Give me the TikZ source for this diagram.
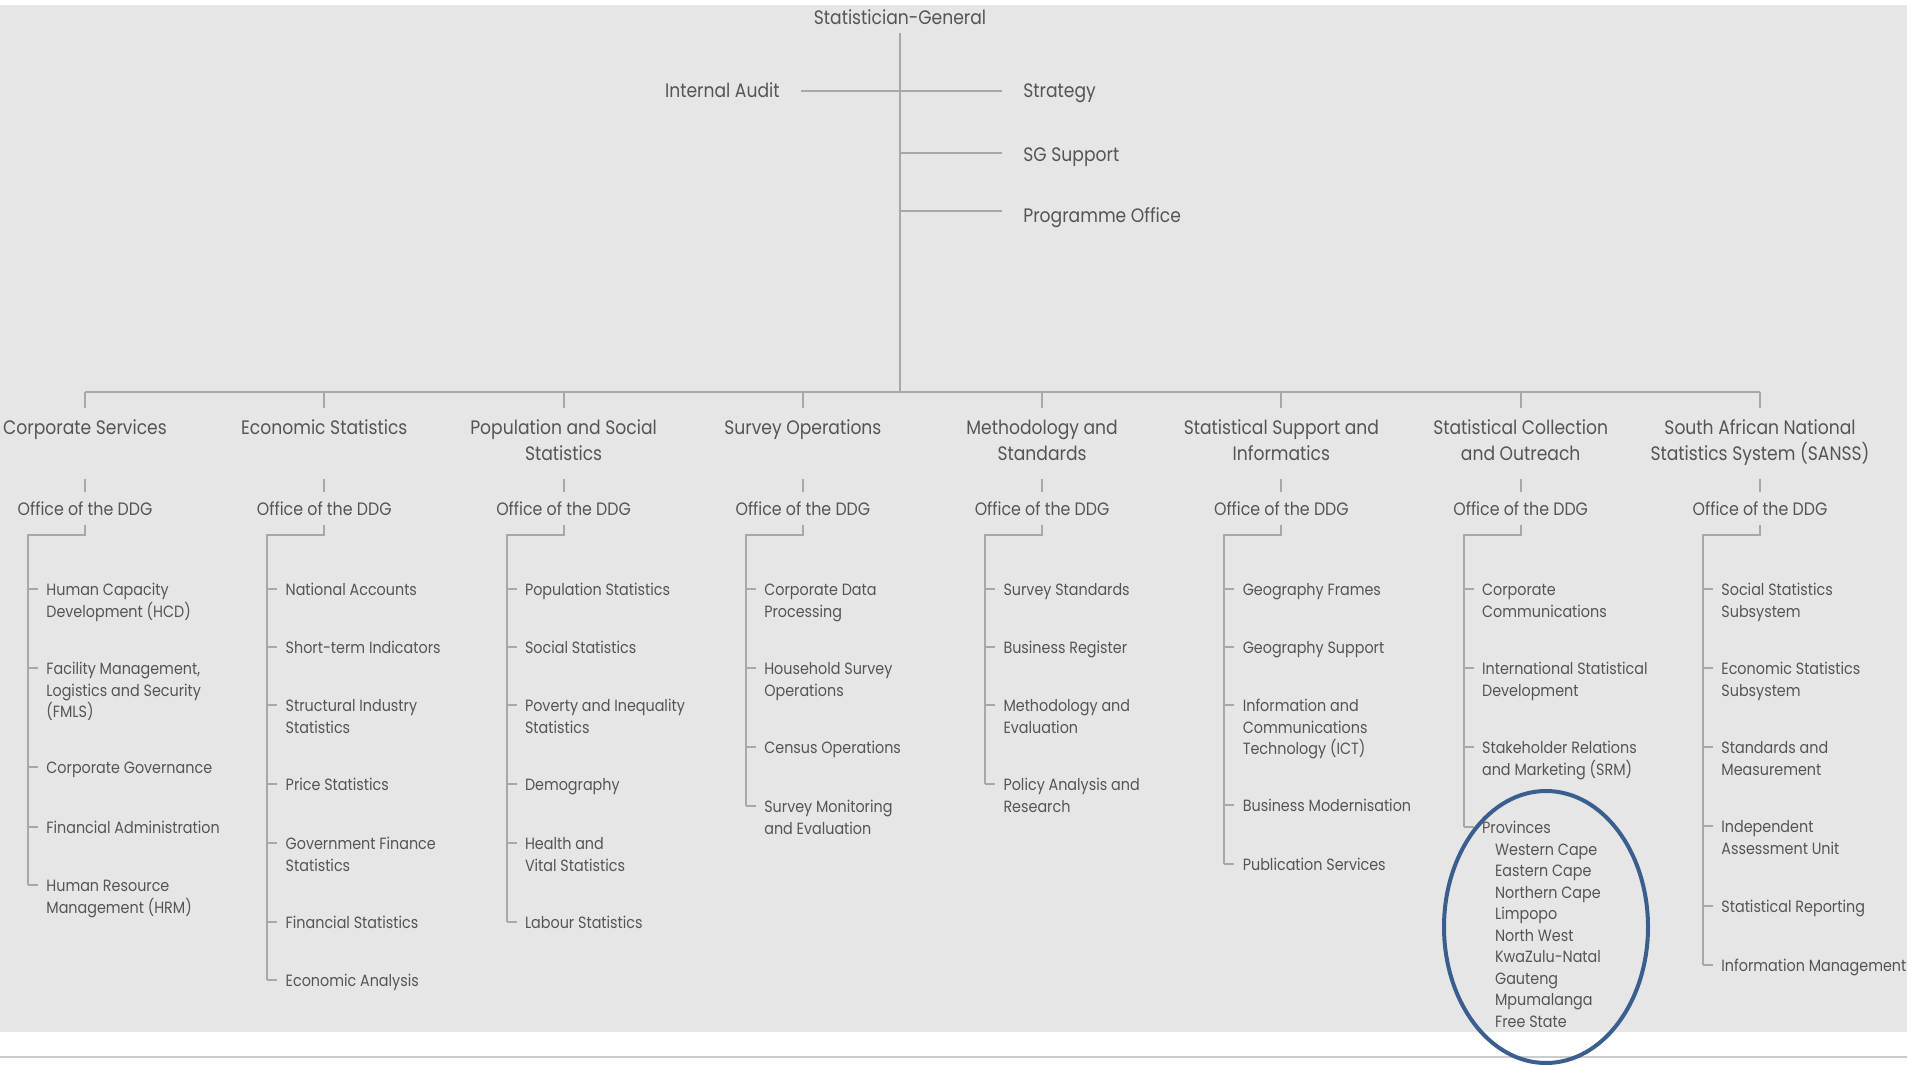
\documentclass[tikz,border=0pt]{standalone}
\usepackage{fontspec}
\setmainfont{Poppins}[FakeStretch=0.88]
\definecolor{bgc}{HTML}{E6E6E6}
\definecolor{txtc}{HTML}{555555}
\definecolor{lnc}{HTML}{A8A8A8}
\definecolor{ovc}{HTML}{3A5F8F}
\definecolor{botc}{HTML}{CCCCCC}
\newcommand{\ml}[1]{\begin{tabular}[t]{@{}l@{}}#1\end{tabular}}
\newcommand{\mc}[1]{\begin{tabular}[t]{@{}c@{}}#1\end{tabular}}
\newcommand{\orgitem}[4]{%
  \node[itm, anchor=base west] (#2) at ({#1-47},{#3+6.5}) {\ml{#4}};
  \path (#2.base west) ++(-10,-6.5) coordinate (#2-t);
  \draw[conn] (#2-t) -- ++(10,0);
}
\newcommand{\orghead}[3]{%
  \coordinate (b#2) at (#1,392);
  \node[dept, anchor=base] (d#2) at (#1,434.5) {\mc{#3}};
  \draw[conn] (b#2) -- (d#2.north);
  \coordinate (s#2) at (#1,479);
  \node[ddg, anchor=base] (o#2) at (#1,515) {Office of the DDG};
  \draw[conn] (s#2) -- (o#2.north);
  \coordinate (e#2) at (#1,535);
}
\begin{document}
\begin{tikzpicture}[x=0.5pt,y=-0.5pt,
  conn/.style={draw=lnc, line width=1pt},
  itm/.style={text=txtc, inner xsep=4pt, inner ysep=0pt, font=\fontsize{8.15}{10.75}\selectfont},
  dept/.style={text=txtc, inner xsep=0pt, inner ysep=4.15pt, font=\fontsize{9.75}{13}\selectfont},
  ddg/.style={text=txtc, inner xsep=0pt, inner ysep=5pt, text height=6.5pt, text depth=0pt, font=\fontsize{9}{11}\selectfont},
  topn/.style={text=txtc, inner xsep=10.5pt, inner ysep=3.5pt, font=\fontsize{9.75}{12}\selectfont}]
\useasboundingbox (0,0) rectangle (1907,1065);
\fill[white] (0,0) rectangle (1907,1065);
\fill[bgc] (0,5) rectangle (1907,1032);
\draw[draw=botc, line width=1pt] (0,1057) -- (1907,1057);

% top level
\node[topn, anchor=base] (sg) at (900,25) {Statistician-General};
\coordinate (hub) at (900,392);
\draw[conn] (sg.south) -- (hub);
\node[topn, anchor=base east] (ia) at (801,98) {Internal Audit};
\node[topn, anchor=base west] (st) at (1002,98) {Strategy};
\node[topn, anchor=base west] (sgs) at (1002,162) {SG Support};
\node[topn, anchor=base west] (po) at (1002,222) {Programme Office};
\coordinate (j1) at (900,91);
\coordinate (j2) at (900,153);
\coordinate (j3) at (900,211);
\draw[conn] (ia.east |- j1) -- (st.west |- j1);
\draw[conn] (j2) -- (sgs.west |- j2);
\draw[conn] (j3) -- (po.west |- j3);

% heads
\orghead{85}{1}{Corporate Services}
\orghead{324.3}{2}{Economic Statistics}
\orghead{563.6}{3}{Population and Social\\Statistics}
\orghead{802.9}{4}{Survey Operations}
\orghead{1042.1}{5}{Methodology and\\Standards}
\orghead{1281.4}{6}{Statistical Support and\\Informatics}
\orghead{1520.7}{7}{Statistical Collection\\and Outreach}
\orghead{1760}{8}{South African National\\Statistics System (SANSS)}
\draw[conn] (b1) -- (b8);

% column 1
\orgitem{85}{c1a}{589}{Human Capacity\\Development (HCD)}
\orgitem{85}{c1b}{668}{Facility Management,\\Logistics and Security\\(FMLS)}
\orgitem{85}{c1c}{767}{Corporate Governance}
\orgitem{85}{c1d}{827}{Financial Administration}
\orgitem{85}{c1e}{885}{Human Resource\\Management (HRM)}
\draw[conn] (o1.south) -- (e1) -| (c1e-t);

% column 2
\orgitem{324.3}{c2a}{589}{National Accounts}
\orgitem{324.3}{c2b}{647}{Short-term Indicators}
\orgitem{324.3}{c2c}{705}{Structural Industry\\Statistics}
\orgitem{324.3}{c2d}{784}{Price Statistics}
\orgitem{324.3}{c2e}{843}{Government Finance\\Statistics}
\orgitem{324.3}{c2f}{922}{Financial Statistics}
\orgitem{324.3}{c2g}{980}{Economic Analysis}
\draw[conn] (o2.south) -- (e2) -| (c2g-t);

% column 3
\orgitem{563.6}{c3a}{589}{Population Statistics}
\orgitem{563.6}{c3b}{647}{Social Statistics}
\orgitem{563.6}{c3c}{705}{Poverty and Inequality\\Statistics}
\orgitem{563.6}{c3d}{784}{Demography}
\orgitem{563.6}{c3e}{843}{Health and\\Vital Statistics}
\orgitem{563.6}{c3f}{922}{Labour Statistics}
\draw[conn] (o3.south) -- (e3) -| (c3f-t);

% column 4
\orgitem{802.9}{c4a}{589}{Corporate Data\\Processing}
\orgitem{802.9}{c4b}{668}{Household Survey\\Operations}
\orgitem{802.9}{c4c}{747}{Census Operations}
\orgitem{802.9}{c4d}{806}{Survey Monitoring\\and Evaluation}
\draw[conn] (o4.south) -- (e4) -| (c4d-t);

% column 5
\orgitem{1042.1}{c5a}{589}{Survey Standards}
\orgitem{1042.1}{c5b}{647}{Business Register}
\orgitem{1042.1}{c5c}{705}{Methodology and\\Evaluation}
\orgitem{1042.1}{c5d}{784}{Policy Analysis and\\Research}
\draw[conn] (o5.south) -- (e5) -| (c5d-t);

% column 6
\orgitem{1281.4}{c6a}{589}{Geography Frames}
\orgitem{1281.4}{c6b}{647}{Geography Support}
\orgitem{1281.4}{c6c}{705}{Information and\\Communications\\Technology (ICT)}
\orgitem{1281.4}{c6d}{805}{Business Modernisation}
\orgitem{1281.4}{c6e}{864}{Publication Services}
\draw[conn] (o6.south) -- (e6) -| (c6e-t);

% column 7
\orgitem{1520.7}{c7a}{589}{Corporate\\Communications}
\orgitem{1520.7}{c7b}{668}{International Statistical\\Development}
\orgitem{1520.7}{c7c}{747}{Stakeholder Relations\\and Marketing (SRM)}
\orgitem{1520.7}{c7d}{827}{Provinces\\\hspace*{6.5pt}Western Cape\\\hspace*{6.5pt}Eastern Cape\\\hspace*{6.5pt}Northern Cape\\\hspace*{6.5pt}Limpopo\\\hspace*{6.5pt}North West\\\hspace*{6.5pt}KwaZulu-Natal\\\hspace*{6.5pt}Gauteng\\\hspace*{6.5pt}Mpumalanga\\\hspace*{6.5pt}Free State}
\draw[conn] (o7.south) -- (e7) -| (c7d-t);

% column 8
\orgitem{1760}{c8a}{589}{Social Statistics\\Subsystem}
\orgitem{1760}{c8b}{668}{Economic Statistics\\Subsystem}
\orgitem{1760}{c8c}{747}{Standards and\\Measurement}
\orgitem{1760}{c8d}{826}{Independent\\Assessment Unit}
\orgitem{1760}{c8e}{906}{Statistical Reporting}
\orgitem{1760}{c8f}{965}{Information Management}
\draw[conn] (o8.south) -- (e8) -| (c8f-t);

% highlight
\draw[draw=ovc, line width=2pt] (1546,927) ellipse [x radius=51pt, y radius=68pt];
\end{tikzpicture}
\end{document}
